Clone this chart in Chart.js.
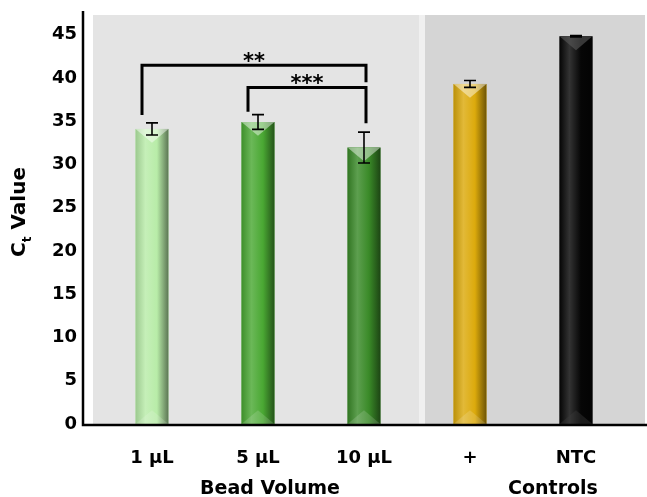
<!DOCTYPE html>
<html>
<head>
<meta charset="utf-8">
<script src="https://cdn.jsdelivr.net/npm/chart.js@4"></script>
<style>
  html, body { margin: 0; padding: 0; background: #fff; }
  #wrap { width: 647px; height: 497px; }
</style>
</head>
<body>
<div id="wrap"><canvas id="ct-chart" width="647" height="497"></canvas></div>
<script>
const categories = ['1 µL', '5 µL', '10 µL', '+', 'NTC'];
const ctValues = [34.1, 34.9, 31.95, 39.3, 44.8];
const ctErrors = [0.7, 0.85, 1.78, 0.4, 0.08];
const barColors = ['#b8eca8', '#4aa833', '#3a8a28', '#dcaa0c', '#060606'];

const groupLabels = [
    { text: 'Bead Volume', from: 0, to: 2 },
    { text: 'Controls', from: 3, to: 4 }
];

// significance brackets: bar indexes, bracket height, where each leg stops
const sigBrackets = [
    { from: 0, to: 2, top: 41.45, legEnds: [35.7, 39.5], label: '**' },
    { from: 1, to: 2, top: 38.9, legEnds: [36.1, 34.75], label: '***' }
];

const FONT = '"DejaVu Sans", Verdana, sans-serif';

function hexToRgb(hex) {
    const n = parseInt(hex.slice(1), 16);
    return [(n >> 16) & 255, (n >> 8) & 255, n & 255];
}

function mix(hex, target, amt) {
    const c = hexToRgb(hex);
    const t = target === 'white' ? 255 : 0;
    const r = c.map(v => Math.round(v + (t - v) * amt));
    return `rgb(${r[0]},${r[1]},${r[2]})`;
}

const panelPlugin = {
    id: 'panelPlugin',
    beforeDraw(chart) {
        const { ctx, chartArea: { top, bottom, left, right } } = chart;
        const x = chart.scales.x;
        const split = (x.getPixelForValue(2) + x.getPixelForValue(3)) / 2 + 5;
        const y0 = top + 2;
        ctx.save();
        ctx.fillStyle = '#e4e4e4';
        ctx.fillRect(left - 6, y0, split - 3 - (left - 6), bottom - y0);
        ctx.fillStyle = '#f0f0f0';
        ctx.fillRect(split - 3, y0, 6, bottom - y0);
        ctx.fillStyle = '#d5d5d5';
        ctx.fillRect(split + 3, y0, right + 16 - split - 3, bottom - y0);
        ctx.restore();
    }
};

const barShading = {
    id: 'barShading',
    afterDatasetsDraw(chart) {
        const { ctx } = chart;
        const meta = chart.getDatasetMeta(0);
        ctx.save();
        meta.data.forEach((bar, i) => {
            const c = barColors[i];
            const w = bar.width;
            const l = bar.x - w / 2;
            const r = bar.x + w / 2;
            const g = ctx.createLinearGradient(l, 0, r, 0);
            g.addColorStop(0, mix(c, 'black', 0.15));
            g.addColorStop(0.3, mix(c, 'white', 0.18));
            g.addColorStop(0.65, c);
            g.addColorStop(1, mix(c, 'black', 0.5));
            ctx.fillStyle = g;
            ctx.fillRect(l, bar.y, w, bar.base - bar.y);

            // bevel triangles at top and bottom
            ctx.beginPath();
            ctx.moveTo(l, bar.y);
            ctx.lineTo(r, bar.y);
            ctx.lineTo(bar.x, bar.y + w * 0.42);
            ctx.closePath();
            ctx.fillStyle = i === 4 ? 'rgba(90,90,90,0.6)' : 'rgba(255,255,255,0.45)';
            ctx.fill();

            ctx.beginPath();
            ctx.moveTo(l, bar.base);
            ctx.lineTo(r, bar.base);
            ctx.lineTo(bar.x, bar.base - w * 0.42);
            ctx.closePath();
            ctx.fillStyle = i === 4 ? 'rgba(60,60,60,0.4)' : 'rgba(255,255,255,0.15)';
            ctx.fill();
        });
        ctx.restore();
    }
};

const errorBars = {
    id: 'errorBars',
    afterDatasetsDraw(chart) {
        const { ctx, scales: { y } } = chart;
        const meta = chart.getDatasetMeta(0);
        ctx.save();
        ctx.strokeStyle = '#000';
        ctx.lineWidth = 1.6;
        meta.data.forEach((bar, i) => {
            const hi = y.getPixelForValue(ctValues[i] + ctErrors[i]);
            const lo = y.getPixelForValue(ctValues[i] - ctErrors[i]);
            ctx.beginPath();
            ctx.moveTo(bar.x, hi);
            ctx.lineTo(bar.x, lo);
            ctx.moveTo(bar.x - 6, hi);
            ctx.lineTo(bar.x + 6, hi);
            ctx.moveTo(bar.x - 6, lo);
            ctx.lineTo(bar.x + 6, lo);
            ctx.stroke();
        });
        ctx.restore();
    }
};

const decorations = {
    id: 'decorations',
    afterDraw(chart) {
        const { ctx, chartArea: { top, bottom, left }, scales: { x, y } } = chart;
        ctx.save();

        // axis lines
        ctx.strokeStyle = '#000';
        ctx.lineWidth = 2.5;
        ctx.beginPath();
        ctx.moveTo(left - 16, top - 2);
        ctx.lineTo(left - 16, bottom + 1);
        ctx.lineTo(chart.width, bottom + 1);
        ctx.stroke();

        // significance brackets
        ctx.lineWidth = 3;
        ctx.fillStyle = '#000';
        ctx.textAlign = 'center';
        ctx.textBaseline = 'alphabetic';
        sigBrackets.forEach(b => {
            const x1 = x.getPixelForValue(b.from) - 10;
            const x2 = x.getPixelForValue(b.to) + 2;
            const yt = y.getPixelForValue(b.top);
            ctx.beginPath();
            ctx.moveTo(x1, y.getPixelForValue(b.legEnds[0]));
            ctx.lineTo(x1, yt);
            ctx.lineTo(x2, yt);
            ctx.lineTo(x2, y.getPixelForValue(b.legEnds[1]));
            ctx.stroke();
            ctx.font = `bold 21px ${FONT}`;
            ctx.fillText(b.label, (x1 + x2) / 2, yt + 3);
        });

        // group labels under the categories (a bit right of the group middle, as in the original)
        ctx.font = `bold 19px ${FONT}`;
        ctx.textBaseline = 'middle';
        const nudge = [12, 30];
        groupLabels.forEach((g, i) => {
            const cx = (x.getPixelForValue(g.from) + x.getPixelForValue(g.to)) / 2 + nudge[i];
            ctx.fillText(g.text, cx, 489);
        });

        // y title with subscript t
        ctx.translate(25, 212);
        ctx.rotate(-Math.PI / 2);
        const big = `bold 20px ${FONT}`;
        const small = `bold 12px ${FONT}`;
        ctx.font = big;
        const wC = ctx.measureText('C').width;
        const wV = ctx.measureText(' Value').width;
        ctx.font = small;
        const wt = ctx.measureText('t').width;
        let cx = -(wC + wt + wV) / 2;
        ctx.textAlign = 'left';
        ctx.textBaseline = 'alphabetic';
        ctx.font = big;
        ctx.fillText('C', cx, 0);
        cx += wC;
        ctx.font = small;
        ctx.fillText('t', cx, 6);
        cx += wt;
        ctx.font = big;
        ctx.fillText(' Value', cx, 0);

        ctx.restore();
    }
};

const ctx = document.getElementById('ct-chart').getContext('2d');

const ctChart = new Chart(ctx, {
    type: 'bar',
    data: {
        labels: categories,
        datasets: [{
            data: ctValues,
            backgroundColor: barColors,
            borderWidth: 0,
            barPercentage: 0.31,
            categoryPercentage: 1
        }]
    },
    options: {
        responsive: false,
        animation: false,
        devicePixelRatio: 1,
        layout: { padding: { top: 13, right: 18, left: 0, bottom: 0 } },
        plugins: {
            legend: { display: false },
            tooltip: { enabled: false }
        },
        scales: {
            x: {
                offset: true,
                grid: { display: false, drawTicks: false },
                border: { display: false },
                ticks: {
                    color: '#000',
                    padding: 24,
                    font: { family: FONT, size: 18, weight: 'bold' }
                },
                afterFit(scale) {
                    scale.height = 73;
                    scale.paddingLeft = 0;
                    scale.paddingRight = 0;
                }
            },
            y: {
                min: 0,
                max: 47.5,
                grid: { display: false, drawTicks: false },
                border: { display: false },
                ticks: {
                    stepSize: 5,
                    color: '#000',
                    padding: 22,
                    font: { family: FONT, size: 18, weight: 'bold' }
                },
                afterBuildTicks(scale) {
                    scale.ticks = scale.ticks.filter(t => t.value % 5 === 0);
                },
                afterFit(scale) {
                    scale.width = 99;
                    scale.paddingTop = 0;
                    scale.paddingBottom = 0;
                }
            }
        }
    },
    plugins: [panelPlugin, barShading, errorBars, decorations]
});
</script>
</body>
</html>
